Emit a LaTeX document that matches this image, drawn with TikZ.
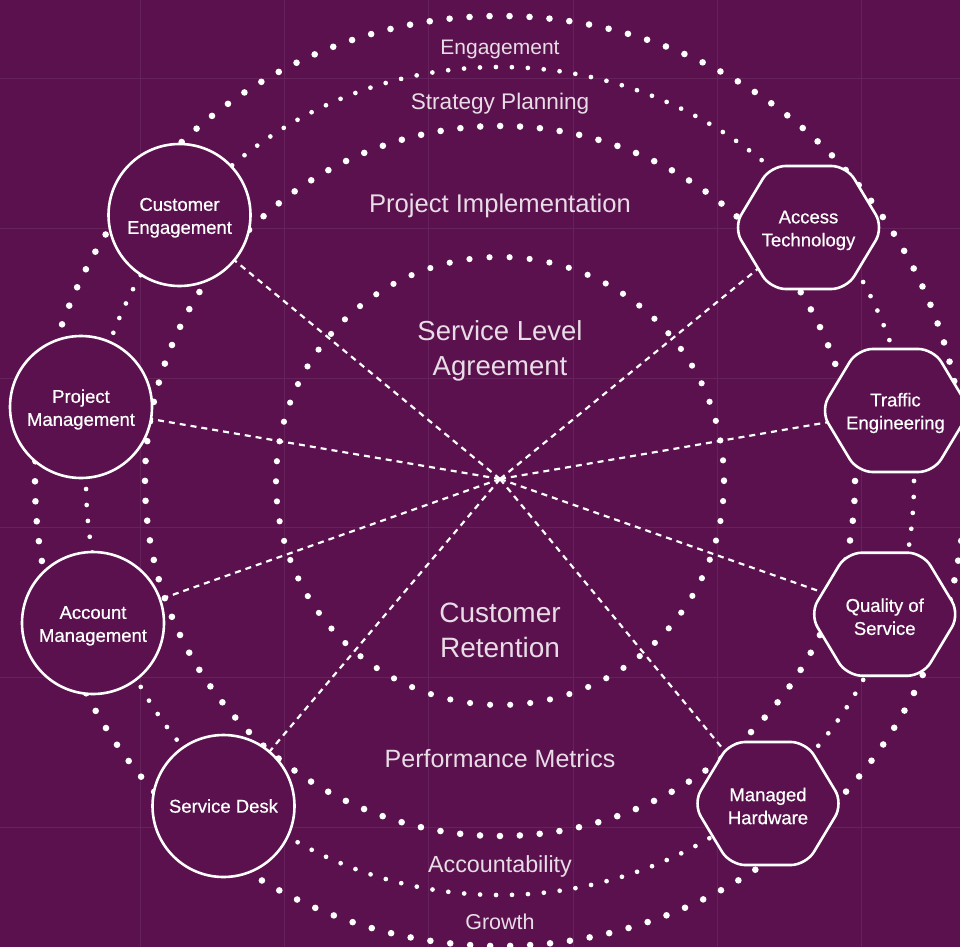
\documentclass[tikz,border=0pt]{standalone}
\usepackage{fontspec}
\setmainfont{Liberation Sans}
\newfontfamily\nodefont[FakeBold=0.6]{Liberation Sans}
\definecolor{bgc}{HTML}{5A114D}
\definecolor{gridc}{HTML}{66225A}
\definecolor{labc}{HTML}{E8DCE6}
\newcommand\firstlift{\rule{0pt}{18.5pt}}
\pgfdeclarelayer{bglayer}
\pgfdeclarelayer{ringlayer}
\pgfdeclarelayer{hexlayer}
\pgfsetlayers{bglayer,ringlayer,hexlayer,main}
\tikzset{
  nodetext/.style={align=center, text=white, font=\nodefont\fontsize{18.5}{23}\selectfont},
  cnode/.style={nodetext, circle, draw=white, line width=2.6pt, fill=bgc, minimum size=142pt, inner sep=0pt},
  hnode/.style={nodetext, inner sep=0pt},
  hexpath/.style={draw=white, line width=2.6pt, fill=bgc, rounded corners=15pt},
  rlab/.style={text=labc, align=center, inner sep=0pt},
  spoke/.style={white, line width=2.2pt, dash pattern=on 6pt off 5pt},
  ring/.style={white, line cap=round},
  gridline/.style={gridc, line width=1pt}
}
\begin{document}
\begin{tikzpicture}[x=1pt,y=-1pt]
\useasboundingbox (0,0) rectangle (960,947);
\begin{pgfonlayer}{bglayer}
  \fill[bgc] (0,0) rectangle (960,947);
  \foreach \gx in {140.5,284.7,428.9,573.1,717.3,861.5}
    \draw[gridline] (\gx,0) -- (\gx,947);
  \foreach \gy in {79,228.6,378.2,527.8,677.4,827}
    \draw[gridline] (0,\gy) -- (960,\gy);
\end{pgfonlayer}

\coordinate (c) at (500,481);
\coordinate (hub) at (500,479);

% circular nodes
\node[cnode] (ce) at (179.5,215) {\firstlift Customer\\Engagement};
\node[cnode] (pm) at (81,407) {\firstlift Project\\Management};
\node[cnode] (am) at (93,623) {\firstlift Account\\Management};
\node[cnode] (sd) at (223.5,806) {Service Desk};
% hexagonal nodes (text; outline drawn below)
\node[hnode] (at) at (808.5,227.5) {\firstlift Access\\Technology};
\node[hnode] (te) at (895.5,410.5) {\firstlift Traffic\\Engineering};
\node[hnode] (qs) at (884.7,614.2) {\firstlift Quality of\\Service};
\node[hnode] (mh) at (768,803.5) {\firstlift Managed\\Hardware};

\begin{pgfonlayer}{hexlayer}
  \foreach \n in {at,te,qs,mh}
    \draw[hexpath] ([shift={(-75,0)}]\n.center) -- ([shift={(-38,-61.5)}]\n.center)
      -- ([shift={(38,-61.5)}]\n.center) -- ([shift={(75,0)}]\n.center)
      -- ([shift={(38,61.5)}]\n.center) -- ([shift={(-38,61.5)}]\n.center) -- cycle;
\end{pgfonlayer}

\begin{pgfonlayer}{ringlayer}
  \draw[ring, line width=6.6pt, dash pattern=on 0pt off 20.01pt] (c) circle[radius=465];
  \draw[ring, line width=4.7pt, dash pattern=on 0pt off 15.96pt] (c) circle[radius=414];
  \draw[ring, line width=6.6pt, dash pattern=on 0pt off 19.92pt] (c) circle[radius=355];
  \draw[ring, line width=6.2pt, dash pattern=on 0pt off 20.1pt] (c) circle[radius=224];
  \foreach \n in {ce,pm,am,sd,at,te,qs,mh}
    \draw[spoke] (hub) -- (\n.center);
\end{pgfonlayer}

% ring labels
\node[rlab, anchor=base, font=\fontsize{21}{25}\selectfont] (l1) at (500,54.3) {Engagement};
\node[rlab, anchor=base, font=\fontsize{22.6}{27}\selectfont] (l2) at (500,110) {Strategy Planning};
\node[rlab, anchor=base, font=\fontsize{25.6}{30}\selectfont] (l3) at (500,212) {Project Implementation};
\node[rlab, font=\fontsize{27.5}{35}\selectfont] (l4) at (500,351) {Service Level\\Agreement};
\node[rlab, font=\fontsize{28}{35}\selectfont] (l5) at (500,630) {Customer\\Retention};
\node[rlab, anchor=base, font=\fontsize{25}{29}\selectfont] (l6) at (500,767) {Performance Metrics};
\node[rlab, anchor=base, font=\fontsize{23.3}{28}\selectfont] (l7) at (500,872.7) {Accountability};
\node[rlab, anchor=base, font=\fontsize{21.5}{26}\selectfont] (l8) at (500,929) {Growth};
\end{tikzpicture}
\end{document}
